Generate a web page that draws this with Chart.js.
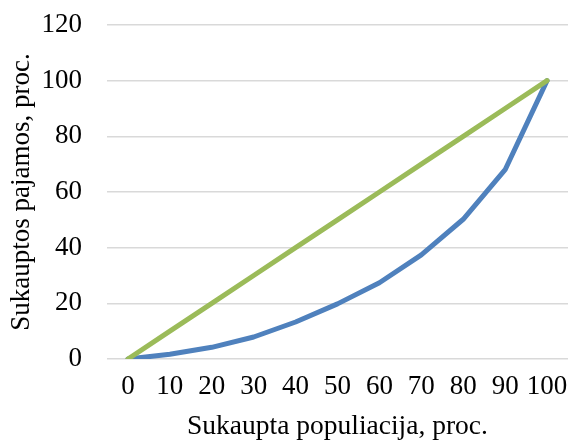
<!DOCTYPE html>
<html>
<head>
<meta charset="utf-8">
<script src="https://cdn.jsdelivr.net/npm/chart.js@4.4.1/dist/chart.umd.min.js"></script>
<style>
  html, body { margin: 0; padding: 0; background: #fff; }
  #wrap { width: 572px; height: 443px; }
</style>
</head>
<body>
<div id="wrap"><canvas id="lorenz" width="572" height="443"></canvas></div>
<script>
// Lorenz kreivė: sukaupta populiacija vs sukauptos pajamos
const populacija = ['0', '10', '20', '30', '40', '50', '60', '70', '80', '90', '100'];
const pajamos = [0, 1.7, 4.2, 7.9, 13.3, 19.8, 27.4, 37.4, 50.2, 68, 100];
const lygybe = [0, 10, 20, 30, 40, 50, 60, 70, 80, 90, 100];

const yTicks = { min: 0, max: 120, step: 20 };

const FONT = 'Liberation Serif, Times New Roman, serif';
const BLUE = '#4f81bd';
const GREEN = '#9bbb59';

new Chart(document.getElementById('lorenz').getContext('2d'), {
  type: 'line',
  data: {
    labels: populacija,
    datasets: [
      {
        data: pajamos,
        borderColor: BLUE,
        borderWidth: 5,
        borderCapStyle: 'round',
        borderJoinStyle: 'round',
        pointRadius: 0,
        tension: 0,
        order: 1
      },
      {
        data: lygybe,
        borderColor: GREEN,
        borderWidth: 5,
        borderCapStyle: 'round',
        borderJoinStyle: 'round',
        pointRadius: 0,
        tension: 0,
        order: 0
      }
    ]
  },
  options: {
    responsive: false,
    animation: false,
    layout: { padding: { left: 0, right: 4, top: 25, bottom: 0 } },
    plugins: { legend: { display: false }, tooltip: { enabled: false } },
    scales: {
      x: {
        offset: true,
        grid: { display: false },
        border: { display: false },
        ticks: { color: '#000', font: { family: FONT, size: 27 }, padding: 4, maxRotation: 0, autoSkip: false },
        title: {
          display: true,
          text: 'Sukaupta populiacija, proc.',
          color: '#000',
          font: { family: FONT, size: 27.5 },
          padding: { top: 0, bottom: 0 }
        },
        afterFit: (scale) => { scale.height = 84; }
      },
      y: {
        min: yTicks.min,
        max: yTicks.max,
        grid: { color: '#d9d9d9', lineWidth: 1.5, drawTicks: false },
        border: { display: false },
        ticks: { stepSize: yTicks.step, color: '#000', font: { family: FONT, size: 27 }, padding: 25 },
        title: {
          display: true,
          text: 'Sukauptos pajamos, proc.',
          color: '#000',
          font: { family: FONT, size: 27 },
          padding: { top: 6, bottom: 0 }
        },
        afterFit: (scale) => {
          scale.width = 107;
          // kraštinės tarpai nuo etikečių nereikalingi
          scale.paddingTop = 0;
          scale.paddingBottom = 0;
        }
      }
    }
  }
});
</script>
</body>
</html>
